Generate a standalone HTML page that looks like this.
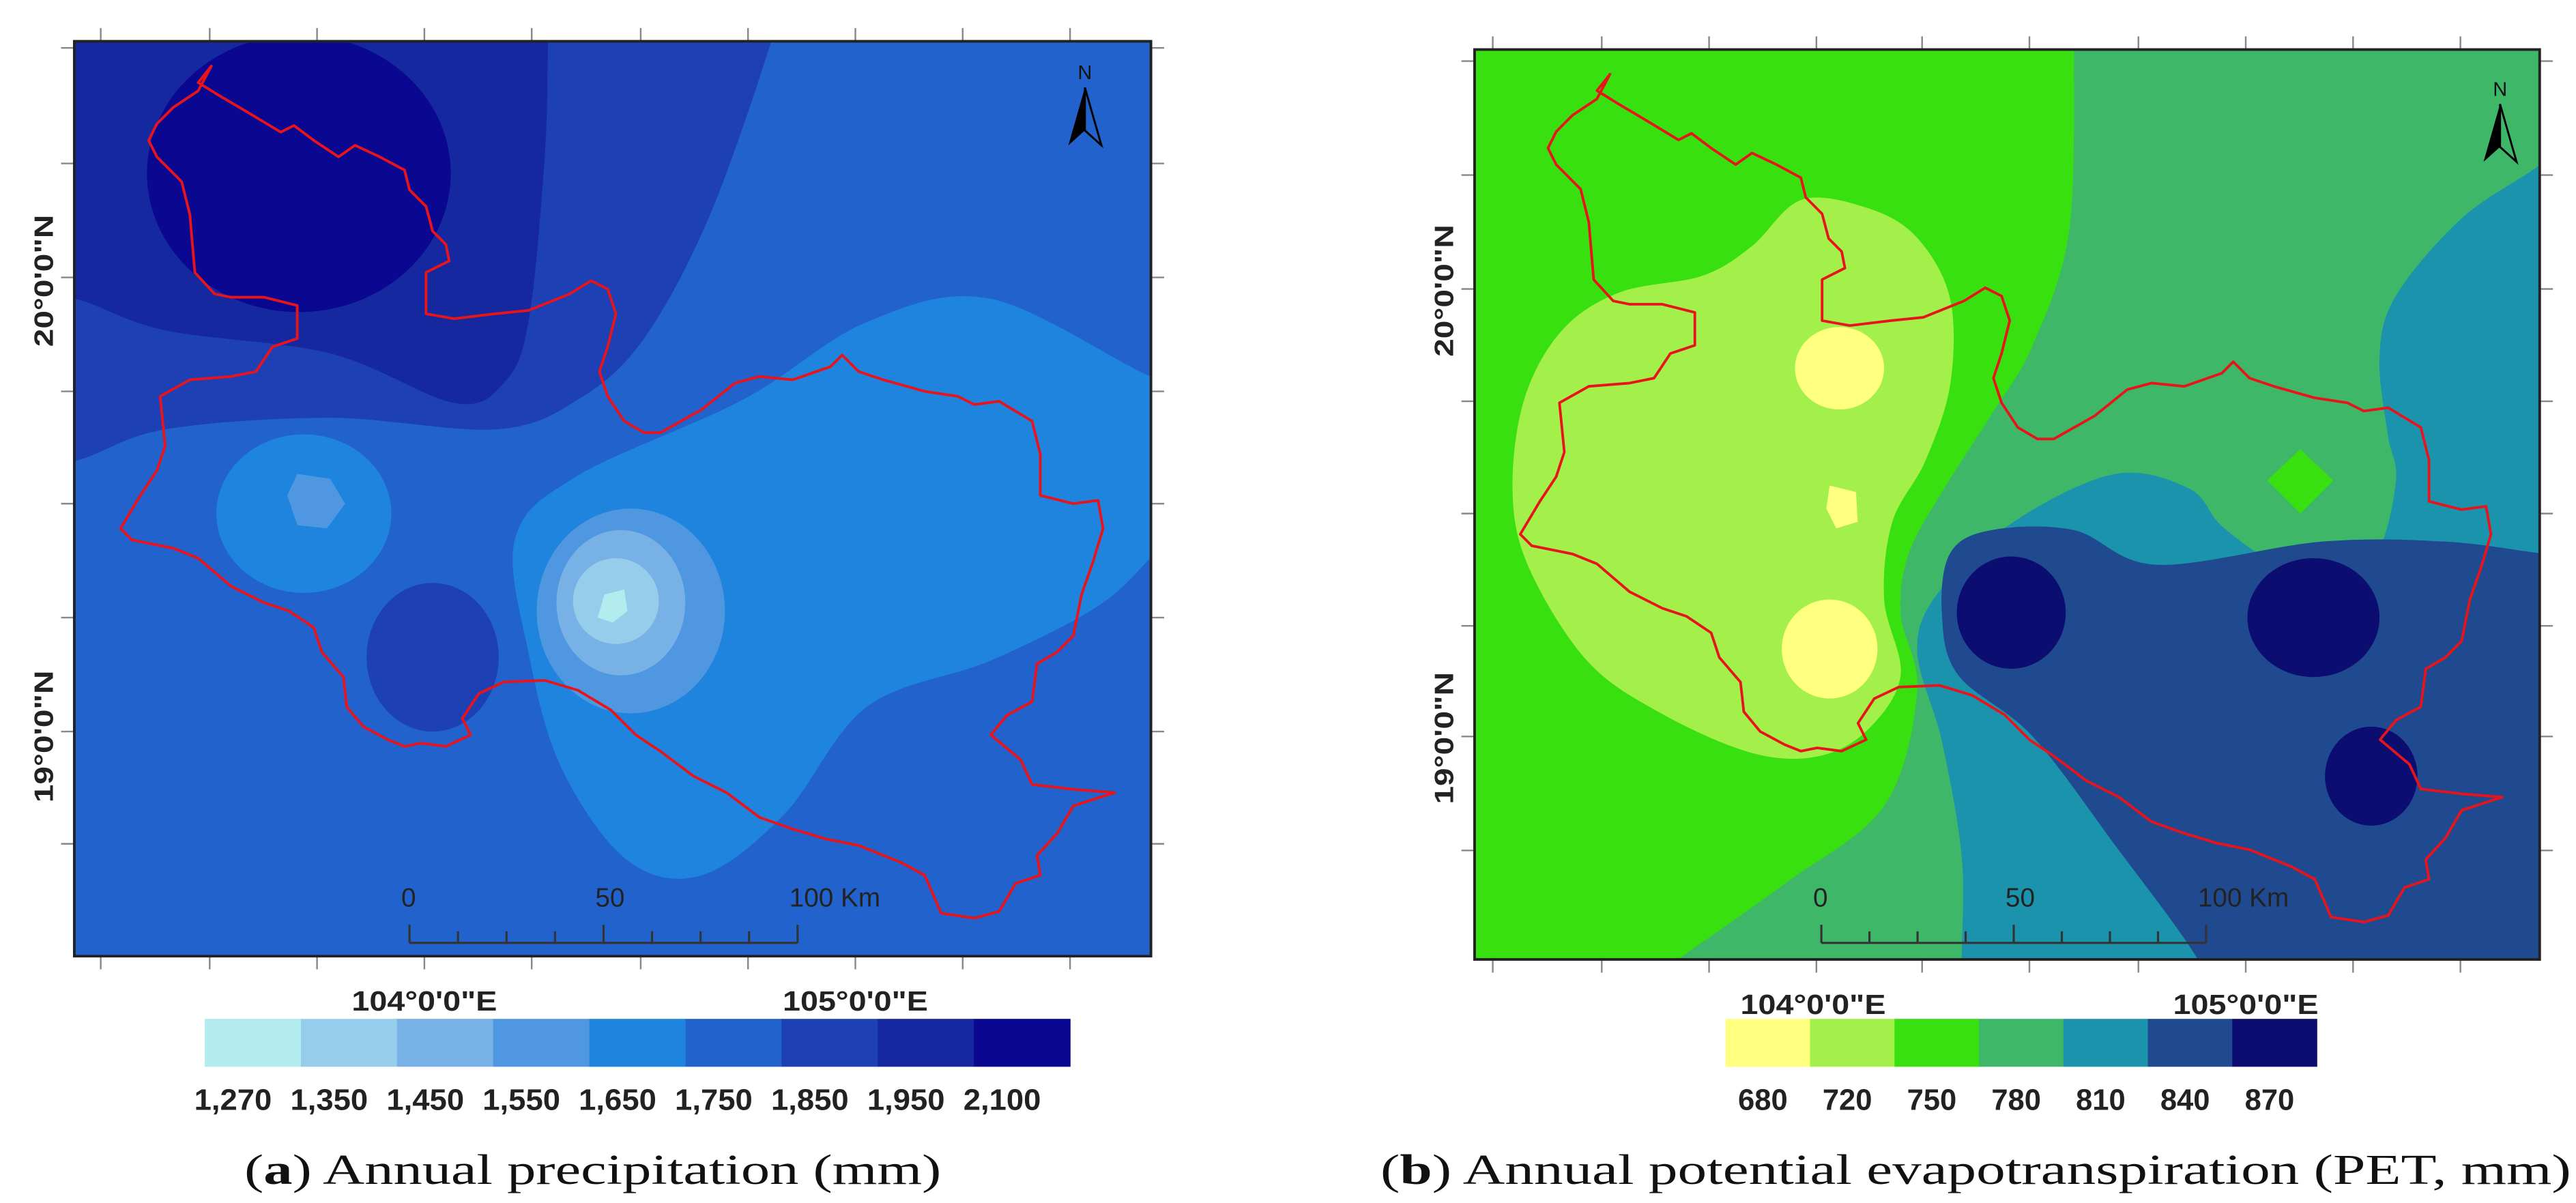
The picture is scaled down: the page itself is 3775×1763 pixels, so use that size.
<!DOCTYPE html>
<html><head><meta charset="utf-8"><style>
html,body{margin:0;padding:0;background:#fff;}
svg{display:block;}
</style></head><body>
<svg id="fig" width="3775" height="1763" viewBox="0 0 1560 728.5" preserveAspectRatio="none" xmlns="http://www.w3.org/2000/svg">
<defs>
<clipPath id="clipA"><rect x="45" y="25" width="652" height="554"/></clipPath>
<clipPath id="clipB"><rect x="893" y="30" width="645" height="551"/></clipPath>
</defs>
<g id="mapA"></g>
<g id="mapB"></g>
</svg>
<script>
// Legend data
const precipLabels = ["1,270","1,350","1,450","1,550","1,650","1,750","1,850","1,950","2,100"];
const precipColors = ["#b3ecee","#96cdeb","#78b1e6","#4f97e0","#1f84dd","#2262cc","#1d40b5","#1628a0","#0a0890"];
const petLabels = ["680","720","750","780","810","840","870"];
const petColors = ["#ffff80","#a3f04a","#38e010","#3eb868","#1b93ad","#204a8f","#0c0d70"];
const latLabels = ["20°0'0\"N","19°0'0\"N"];
const lonLabels = ["104°0'0\"E","105°0'0\"E"];
const scaleLabels = ["0","50","100 Km"];

const NS="http://www.w3.org/2000/svg";
function mk(tag, attrs, parent){const e=document.createElementNS(NS,tag);for(const k in attrs)e.setAttribute(k,attrs[k]);parent.appendChild(e);return e;}
function smooth(pts){let d="M"+pts[0][0]+","+pts[0][1];const n=pts.length;
 for(let i=0;i<n;i++){const p0=pts[(i-1+n)%n],p1=pts[i],p2=pts[(i+1)%n],p3=pts[(i+2)%n];
  const c1=[p1[0]+(p2[0]-p0[0])/6,p1[1]+(p2[1]-p0[1])/6],c2=[p2[0]-(p3[0]-p1[0])/6,p2[1]-(p3[1]-p1[1])/6];
  d+=" C"+c1[0].toFixed(1)+","+c1[1].toFixed(1)+" "+c2[0].toFixed(1)+","+c2[1].toFixed(1)+" "+p2[0]+","+p2[1];}
 return d+"Z";}
function poly(pts){return "M"+pts.map(p=>p.join(",")).join(" L")+"Z";}

const boundary=[[128,40],[120,50],[133,58],[150,68],[170,80],[178,76],[190,85],[205,95],[215,88],[230,95],[245,103],[248,115],[258,125],[262,140],[270,148],[272,158],[258,165],[258,190],[275,193],[300,190],[320,188],[345,178],[358,170],[368,175],[373,190],[368,210],[363,225],[368,240],[378,255],[390,262],[400,262],[425,248],[445,232],[460,228],[480,230],[503,222],[510,215],[520,225],[535,230],[560,237],[580,240],[590,245],[605,243],[625,255],[630,275],[630,300],[650,305],[665,303],[668,320],[662,340],[655,360],[650,385],[640,395],[628,402],[625,425],[610,433],[600,445],[618,460],[625,475],[650,478],[675,480],[650,488],[640,505],[628,518],[630,530],[615,535],[605,552],[590,556],[570,553],[560,530],[545,522],[520,512],[500,508],[480,502],[460,495],[440,480],[420,470],[400,455],[385,445],[370,430],[350,418],[330,412],[305,413],[290,420],[280,435],[285,445],[270,452],[255,450],[245,452],[235,448],[220,440],[210,428],[208,410],[195,395],[190,380],[175,370],[160,365],[140,355],[120,338],[105,332],[80,327],[73,320],[85,300],[95,285],[100,270],[97,240],[115,230],[140,228],[155,225],[165,210],[180,205],[180,185],[160,180],[140,180],[130,178],[118,165],[115,130],[110,110],[95,95],[90,85],[95,75],[105,65],[120,55]];

function frameDecor(g,fx,fy,fw,fh,xt,yt,latY,lonX,legX,legW,labels,colors,capText,capBold,capX,capLen,nx,ny,sbX,sbW){
 xt.forEach(x=>{const t=mk("line",{x1:x,y1:fy-8,x2:x,y2:fy,stroke:"#888","stroke-width":1},g);
  const b=mk("line",{x1:x,y1:fy+fh,x2:x,y2:fy+fh+8,stroke:"#888","stroke-width":1},g);});
 yt.forEach(y=>{const t=mk("line",{x1:fx-8,y1:y,x2:fx,y2:y,stroke:"#888","stroke-width":1},g);
  const r=mk("line",{x1:fx+fw,y1:y,x2:fx+fw+8,y2:y,stroke:"#888","stroke-width":1},g);});
 const fr=mk("rect",{x:fx,y:fy,width:fw,height:fh,fill:"none",stroke:"#222","stroke-width":1.6},g);
 
 latLabels.forEach((s,i)=>{const t=mk("text",{x:0,y:0,transform:`translate(${fx-13},${latY[i]}) rotate(-90)`,"text-anchor":"middle","font-family":"Liberation Sans, sans-serif","font-weight":"bold","font-size":16,textLength:80,lengthAdjust:"spacingAndGlyphs",fill:"#222"},g);t.textContent=s;
  });
 lonLabels.forEach((s,i)=>{const t=mk("text",{x:lonX[i],y:fy+fh+33,"text-anchor":"middle","font-family":"Liberation Sans, sans-serif","font-weight":"bold","font-size":17,textLength:88,lengthAdjust:"spacingAndGlyphs",fill:"#222"},g);t.textContent=s;
  });
 const bw=legW/labels.length;
 colors.forEach((c,i)=>{const r=mk("rect",{x:legX+i*bw,y:617,width:bw+0.3,height:29,fill:c},g);
  const t=mk("text",{x:legX+i*bw+bw/2-(labels[i].length>3?12:3),y:672,"text-anchor":"middle","font-family":"Liberation Sans, sans-serif","font-weight":"bold","font-size":18,fill:"#222"},g);t.textContent=labels[i];
  if(labels[i].length>3){t.setAttribute("textLength",47);t.setAttribute("lengthAdjust","spacingAndGlyphs");}
  });
 const cap=mk("text",{x:capX,y:717,"font-family":"Liberation Serif, serif","font-size":26,fill:"#111",textLength:capLen,lengthAdjust:"spacingAndGlyphs"},g);
 
 const ts1=mk("tspan",{},cap);ts1.textContent="(";const ts2=mk("tspan",{"font-weight":"bold"},cap);ts2.textContent=capBold;const ts3=mk("tspan",{},cap);ts3.textContent=") "+capText;
 const na=mk("g",{},g);
 const nt=mk("text",{x:nx,y:ny,"text-anchor":"middle","font-family":"Liberation Sans, sans-serif","font-size":12,fill:"#111"},na);nt.textContent="N";
 mk("path",{d:`M${nx},${ny+5} L${nx-10},${ny+40} L${nx},${ny+31} Z`,fill:"#000"},na);
 mk("path",{d:`M${nx},${ny+5} L${nx+10},${ny+40} L${nx},${ny+31} Z`,fill:"none",stroke:"#000","stroke-width":1.2},na);
 const sb=mk("g",{},g);
 mk("line",{x1:sbX,y1:571,x2:sbX+sbW,y2:571,stroke:"#333","stroke-width":1.3},sb);
 for(let i=0;i<=8;i++){const x=sbX+i*sbW/8;mk("line",{x1:x,y1:(i%4==0)?560:564,x2:x,y2:571,stroke:"#333","stroke-width":1.3},sb);}
 scaleLabels.forEach((s,i)=>{const t=mk("text",{x:sbX+i*sbW/2-5,y:549,"font-family":"Liberation Sans, sans-serif","font-size":16,fill:"#222"},sb);t.textContent=s;});
}

// ---- Map A ----
const gA=document.getElementById("mapA");
const cA=mk("g",{"clip-path":"url(#clipA)"},gA);
mk("rect",{x:45,y:25,width:652,height:554,fill:precipColors[5]},cA);
mk("path",{d:smooth([[0,0],[470,0],[468,22],[430,130],[390,205],[350,242],[300,260],[200,253],[100,260],[46,279],[0,285]]),fill:precipColors[6]},cA);
mk("path",{d:smooth([[0,0],[334,0],[332,22],[330,93],[320,195],[305,232],[275,244],[200,214],[100,200],[46,181],[0,175]]),fill:precipColors[7]},cA);
mk("ellipse",{cx:181,cy:105,rx:92,ry:84,fill:precipColors[8]},cA);
mk("path",{d:smooth([[720,228],[697,228],[600,181],[525,195],[450,242],[350,288],[312,326],[320,395],[340,465],[380,521],[425,530],[475,493],[525,428],[600,400],[665,367],[700,335],[720,320]]),fill:precipColors[4]},cA);
mk("ellipse",{cx:184,cy:311,rx:53,ry:48,fill:precipColors[4]},cA);
mk("path",{d:poly([[180,287],[200,290],[209,305],[198,320],[180,318],[174,300]]),fill:precipColors[3]},cA);
mk("ellipse",{cx:262,cy:398,rx:40,ry:45,fill:precipColors[6]},cA);
mk("ellipse",{cx:382,cy:370,rx:57,ry:62,fill:precipColors[3]},cA);
mk("ellipse",{cx:376,cy:365,rx:39,ry:44,fill:precipColors[2]},cA);
mk("ellipse",{cx:373,cy:364,rx:26,ry:26,fill:precipColors[1]},cA);
mk("path",{d:poly([[366,360],[378,357],[380,370],[371,377],[362,374]]),fill:precipColors[0]},cA);
const bA=mk("path",{d:poly(boundary),fill:"none",stroke:"#e8141c","stroke-width":1.6,"stroke-linejoin":"round"},cA);

frameDecor(gA,45,25,652,554,[61,127,192,257,322,388,453,518,583,648],[29,99,168,237,305,374,443,511],[170,446],[257,518],124,524,precipLabels,precipColors,"Annual precipitation (mm)","a",148,422,657,48,248,235);

// ---- Map B ----
const gB=document.getElementById("mapB");
const cB=mk("g",{"clip-path":"url(#clipB)"},gB);
mk("rect",{x:893,y:30,width:645,height:551,fill:petColors[2]},cB);
mk("path",{d:smooth([[1256,0],[1256,30],[1253,140],[1231,209],[1206,251],[1176,298],[1156,335],[1151,372],[1161,419],[1141,488],[1081,535],[1016,581],[990,600],[1600,600],[1600,0]]),fill:petColors[3]},cB);
mk("path",{d:smooth([[1560,80],[1538,100],[1491,132],[1451,179],[1441,216],[1446,263],[1451,290],[1441,332],[1421,346],[1381,342],[1346,319],[1326,296],[1281,287],[1221,315],[1176,356],[1161,393],[1176,449],[1188,519],[1188,581],[1188,620],[1600,620],[1600,80]]),fill:petColors[4]},cB);
mk("path",{d:poly([[1393,272],[1413,291],[1393,311],[1373,291]]),fill:petColors[2]},cB);
mk("path",{d:smooth([[1560,337],[1538,335],[1481,328],[1406,328],[1306,342],[1256,321],[1206,321],[1181,335],[1176,372],[1186,409],[1231,446],[1281,512],[1331,581],[1345,620],[1600,620]]),fill:petColors[5]},cB);
mk("ellipse",{cx:1218,cy:371,rx:33,ry:34,fill:petColors[6]},cB);
mk("ellipse",{cx:1401,cy:374,rx:40,ry:36,fill:petColors[6]},cB);
mk("ellipse",{cx:1436,cy:470,rx:28,ry:30,fill:petColors[6]},cB);
mk("path",{d:smooth([[1091,121],[1061,149],[1031,167],[981,177],[946,200],[923,242],[916,298],[926,344],[961,400],[1006,432],[1061,456],[1101,458],[1131,442],[1151,409],[1141,363],[1146,316],[1166,279],[1181,233],[1181,181],[1161,144],[1131,126]]),fill:petColors[1]},cB);
mk("ellipse",{cx:1114,cy:223,rx:27,ry:25,fill:petColors[0]},cB);
mk("path",{d:poly([[1108,294],[1124,298],[1125,316],[1112,320],[1106,308]]),fill:petColors[0]},cB);
mk("ellipse",{cx:1108,cy:393,rx:29,ry:30,fill:petColors[0]},cB);
const bB=mk("path",{d:poly(boundary),fill:"none",stroke:"#e8141c","stroke-width":1.6,"stroke-linejoin":"round",transform:"translate(893,30) scale(0.988,0.995) translate(-45,-25)"},cB);

frameDecor(gB,893,30,645,551,[904,970,1035,1100,1164,1229,1295,1360,1425,1490],[37,106,175,243,311,379,446,515],[176,447],[1098,1360],1045,358,petLabels,petColors,"Annual potential evapotranspiration (PET, mm)","b",836,721,1514,58,1103,233);
</script>
</body></html>
